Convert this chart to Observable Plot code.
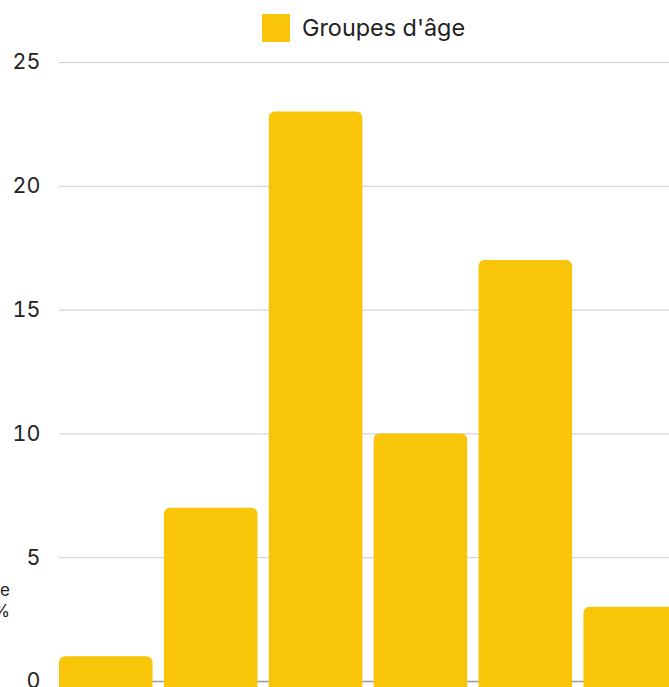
<!DOCTYPE html>
<html>
<head>
<meta charset="utf-8">
<script src="https://cdn.jsdelivr.net/npm/d3@7"></script>
<script src="https://cdn.jsdelivr.net/npm/@observablehq/plot@0.6"></script>
<style>
  html, body { margin: 0; padding: 0; background: #fff; overflow: hidden; width: 669px; height: 687px; }
  body { position: relative; font-family: Inter, "Noto Sans", sans-serif; color: #222; }
  #legend { position: absolute; top: 13px; left: 262px; display: flex; align-items: center; font-size: 23.4px; white-space: nowrap; }
  #legend .sw { width: 28px; height: 28px; background: #F9C509; margin-right: 12px; }
  #ylabel { position: absolute; left: -300px; width: 310px; top: 580px; text-align: right; font-size: 17px; line-height: 21px; }
  #chart { position: absolute; top: 50px; left: 0; width: 677px; }
  #chart svg { max-width: none !important; }
</style>
</head>
<body>
<div id="legend"><div class="sw"></div><span>Groupes d'âge</span></div>
<div id="ylabel">Pourcentage<br>en %</div>
<div id="chart"></div>
<script>
const categories = ["0-17 ans", "18-24 ans", "25-34 ans", "35-44 ans", "45-59 ans", "60 ans et +"];
const values = [1, 7, 23, 10, 17, 3];
const yTicks = [0, 5, 10, 15, 20, 25];
const seriesName = "Groupes d'âge";
const color = "#F9C509";

const data = categories.map((c, i) => ({category: c, value: values[i], series: seriesName}));

const chart = Plot.plot({
  width: 677,
  height: 640,
  marginLeft: 59,
  marginRight: 0,
  marginTop: 12,
  marginBottom: 9,
  style: {fontFamily: "Inter, 'Noto Sans', sans-serif", fontSize: "21px", color: "#222", overflow: "visible", maxWidth: "none"},
  x: {domain: categories, paddingInner: 0.108, paddingOuter: 0, round: false, axis: null},
  y: {domain: [0, 25], ticks: yTicks, label: null},
  marks: [
    Plot.gridY(yTicks, {stroke: "#ccc", strokeOpacity: 1, strokeWidth: 1}),
    Plot.axisY(yTicks, {tickSize: 0, tickPadding: 19, fontSize: 21.5, fill: "#222", label: null}),
    Plot.ruleY([0], {stroke: "#999", strokeWidth: 1.5}),
    Plot.barY(data, {x: "category", y: "value", fill: color, rx: 6, insetBottom: -12})
  ]
});
document.getElementById("chart").appendChild(chart);
</script>
</body>
</html>
